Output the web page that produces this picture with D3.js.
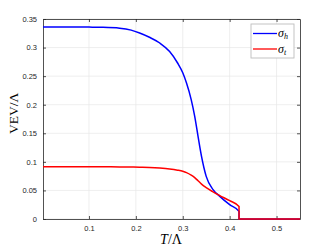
<!DOCTYPE html>
<html>
<head>
<meta charset="utf-8">
<script src="https://cdn.jsdelivr.net/npm/d3@7"></script>
<style>
body { margin: 0; background: #fff; }
svg { display: block; }
</style>
</head>
<body>
<div id="wrapper"></div>
<script>
// values
const tValues = [0.002, 0.05, 0.1, 0.13, 0.1655, 0.19, 0.208, 0.229, 0.251, 0.272, 0.289, 0.3, 0.308, 0.318, 0.3255, 0.3326, 0.34, 0.35, 0.3646, 0.379, 0.4, 0.42, 0.42, 0.55];
const sigmaH = [0.336, 0.336, 0.3358, 0.3355, 0.334, 0.3305, 0.3255, 0.318, 0.308, 0.293, 0.273, 0.256, 0.238, 0.209, 0.1796, 0.1446, 0.1096, 0.0746, 0.0513, 0.0396, 0.025, 0.0133, 0, 0];
const sigmaT = [0.0915, 0.0915, 0.0915, 0.0914, 0.0912, 0.091, 0.0907, 0.0903, 0.0893, 0.0877, 0.0855, 0.0835, 0.0812, 0.0768, 0.0725, 0.067, 0.061, 0.0548, 0.0475, 0.041, 0.032, 0.022, 0, 0];
const xTicks = [0.1, 0.2, 0.3, 0.4, 0.5];
const yTicks = [0, 0.05, 0.1, 0.15, 0.2, 0.25, 0.3, 0.35];
const seriesNames = ["h", "t"];
const seriesColors = ["#0000ff", "#ff0000"];

const width = 332, height = 249;
const margin = {top: 19, left: 43, bottom: 30, right: 32};
const innerW = width - margin.left - margin.right;
const innerH = height - margin.top - margin.bottom;
const serif = "'Liberation Serif', 'Times New Roman', serif";

const svg = d3.select("#wrapper").append("svg")
    .attr("width", width)
    .attr("height", height);

const x = d3.scaleLinear().domain([0.002, 0.55]).range([margin.left, margin.left + innerW]);
const y = d3.scaleLinear().domain([0, 0.35]).range([margin.top + innerH, margin.top]);

// grid
svg.append("g").selectAll("line").data(xTicks).join("line")
    .attr("x1", d => x(d)).attr("x2", d => x(d))
    .attr("y1", margin.top).attr("y2", margin.top + innerH)
    .attr("stroke", "#e6e6e6").attr("stroke-width", 0.7);
svg.append("g").selectAll("line").data(yTicks).join("line")
    .attr("x1", margin.left).attr("x2", margin.left + innerW)
    .attr("y1", d => y(d)).attr("y2", d => y(d))
    .attr("stroke", "#e6e6e6").attr("stroke-width", 0.7);

// axes, ticks inside like matlab
const fmt = d => d === 0 ? "0" : String(+d.toFixed(2));
const styleAxis = g => {
    g.select(".domain").attr("stroke", "#262626").attr("stroke-width", 0.8);
    g.selectAll(".tick line").attr("stroke", "#262626").attr("stroke-width", 0.8);
    g.selectAll(".tick text").attr("fill", "#262626")
        .style("font-family", "'Liberation Sans', Arial, sans-serif").style("font-size", "7.5px");
};
svg.append("g").attr("transform", `translate(0,${margin.top + innerH})`)
    .call(d3.axisBottom(x).tickValues(xTicks).tickFormat(fmt).tickSizeInner(-3).tickSizeOuter(0).tickPadding(7))
    .call(styleAxis);
svg.append("g").attr("transform", `translate(0,${margin.top})`)
    .call(d3.axisTop(x).tickValues(xTicks).tickFormat("").tickSizeInner(-3).tickSizeOuter(0))
    .call(styleAxis);
svg.append("g").attr("transform", `translate(${margin.left},0)`)
    .call(d3.axisLeft(y).tickValues(yTicks).tickFormat(fmt).tickSizeInner(-3).tickSizeOuter(0).tickPadding(6))
    .call(styleAxis);
svg.append("g").attr("transform", `translate(${margin.left + innerW},0)`)
    .call(d3.axisRight(y).tickValues(yTicks).tickFormat("").tickSizeInner(-3).tickSizeOuter(0))
    .call(styleAxis);

// curves
const line = d3.line().x(d => x(d[0])).y(d => y(d[1])).curve(d3.curveMonotoneX);
const series = [sigmaH, sigmaT];
series.forEach((vals, i) => {
    svg.append("path")
        .datum(tValues.map((t, j) => [t, vals[j]]))
        .attr("d", line)
        .attr("fill", "none")
        .attr("stroke", seriesColors[i])
        .attr("stroke-width", 1.5);
});

// labels
svg.append("text")
    .attr("x", x(0.275)).attr("y", 244)
    .attr("text-anchor", "middle")
    .style("font-family", serif).style("font-size", "14px")
    .html('<tspan font-style="italic">T</tspan>/Λ');
svg.append("text")
    .attr("transform", `translate(18,${y(0.185)}) rotate(-90)`)
    .attr("text-anchor", "middle")
    .style("font-family", serif).style("font-size", "13.5px")
    .text("VEV/Λ");

// legend
const lg = svg.append("g").attr("transform", "translate(251,24)");
lg.append("rect").attr("width", 43).attr("height", 34)
    .attr("fill", "#fff").attr("stroke", "#bdbdbd").attr("stroke-width", 0.9);
seriesNames.forEach((n, i) => {
    const yy = 9.5 + i * 15.5;
    lg.append("line").attr("x1", 2).attr("x2", 26).attr("y1", yy).attr("y2", yy)
        .attr("stroke", seriesColors[i]).attr("stroke-width", 1.3);
    lg.append("text").attr("x", 27).attr("y", yy + 3.5)
        .style("font-family", serif).style("font-size", "12px").style("font-style", "italic")
        .html(`σ<tspan font-size="8" dy="2">${n}</tspan>`);
});
</script>
</body>
</html>
